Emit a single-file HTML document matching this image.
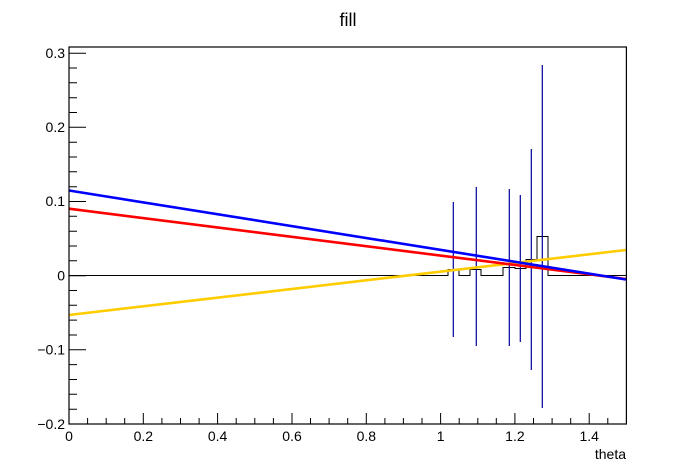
<!DOCTYPE html>
<html><head><meta charset="utf-8"><style>
html,body{margin:0;padding:0;background:#fff;}
svg{display:block;font-family:"Liberation Sans",Arial,sans-serif;}
</style></head><body>
<svg width="696" height="472" viewBox="0 0 696 472" xmlns="http://www.w3.org/2000/svg">
<rect width="696" height="472" fill="#fff"/>
<text x="348" y="26" font-size="18" text-anchor="middle">fill</text>
<!-- zero line / histogram -->
<path d="M69 275.5 H448 V269.5 H459 V275.5 H470 V269.5 H481 V275.5 H503 V267.5 H515 V268.5 H526 V259.5 H537 V236.5 H548 V275.5 H626.5" fill="none" stroke="#000" stroke-width="1"/>
<!-- error bars -->
<g stroke="#000099" stroke-width="1.2">
<line x1="453.3" y1="202" x2="453.3" y2="337"/>
<line x1="476.3" y1="187" x2="476.3" y2="346"/>
<line x1="509.3" y1="189" x2="509.3" y2="346"/>
<line x1="520.3" y1="195" x2="520.3" y2="342"/>
<line x1="531.3" y1="149" x2="531.3" y2="370"/>
<line x1="542.3" y1="65" x2="542.3" y2="408"/>
</g>
<!-- curves -->
<line x1="69" y1="315" x2="626" y2="250" stroke="#ffcc00" stroke-width="2.6"/>
<line x1="69" y1="208.7" x2="626" y2="279" stroke="#ff0000" stroke-width="2.6"/>
<line x1="69" y1="190.5" x2="626" y2="279.5" stroke="#0000ff" stroke-width="2.6"/>
<!-- frame -->
<rect x="69" y="47" width="557.4" height="377" fill="none" stroke="#000" stroke-width="1.2"/>
<!-- y ticks -->
<path stroke="#000" stroke-width="1" fill="none" d="
M69 424H86 M69 409.2H77 M69 394.3H77 M69 379.5H77 M69 364.6H77
M69 349.8H86 M69 335H77 M69 320.1H77 M69 305.3H77 M69 290.5H77
M69 275.7H86 M69 260.8H77 M69 246H77 M69 231.2H77 M69 216.3H77
M69 201.5H86 M69 186.7H77 M69 171.8H77 M69 157H77 M69 142.2H77
M69 127.3H86 M69 112.5H77 M69 97.7H77 M69 82.8H77 M69 68H77
M69 53.2H86"/>
<!-- x ticks -->
<path stroke="#000" stroke-width="1" fill="none" d="
M69 424V413 M87.6 424V418 M106.2 424V418 M124.7 424V418
M143.3 424V413 M161.9 424V418 M180.5 424V418 M199.1 424V418
M217.6 424V413 M236.2 424V418 M254.8 424V418 M273.4 424V418
M292 424V413 M310.5 424V418 M329.1 424V418 M347.7 424V418
M366.3 424V413 M384.9 424V418 M403.4 424V418 M422 424V418
M440.6 424V413 M459.2 424V418 M477.8 424V418 M496.3 424V418
M514.9 424V413 M533.5 424V418 M552.1 424V418 M570.7 424V418
M589.2 424V413 M607.8 424V418"/>
<g font-size="14" text-anchor="end">
<text x="65" y="58">0.3</text>
<text x="65" y="132">0.2</text>
<text x="65" y="206">0.1</text>
<text x="65" y="280.5">0</text>
<text x="65" y="354.5">−0.1</text>
<text x="65" y="429">−0.2</text>
</g>
<g font-size="14" text-anchor="middle">
<text x="69" y="441">0</text>
<text x="143.3" y="441">0.2</text>
<text x="217.6" y="441">0.4</text>
<text x="292" y="441">0.6</text>
<text x="366.3" y="441">0.8</text>
<text x="440.6" y="441">1</text>
<text x="514.9" y="441">1.2</text>
<text x="589.2" y="441">1.4</text>
</g>
<text x="626" y="459" font-size="14" text-anchor="end">theta</text>
</svg>
</body></html>
